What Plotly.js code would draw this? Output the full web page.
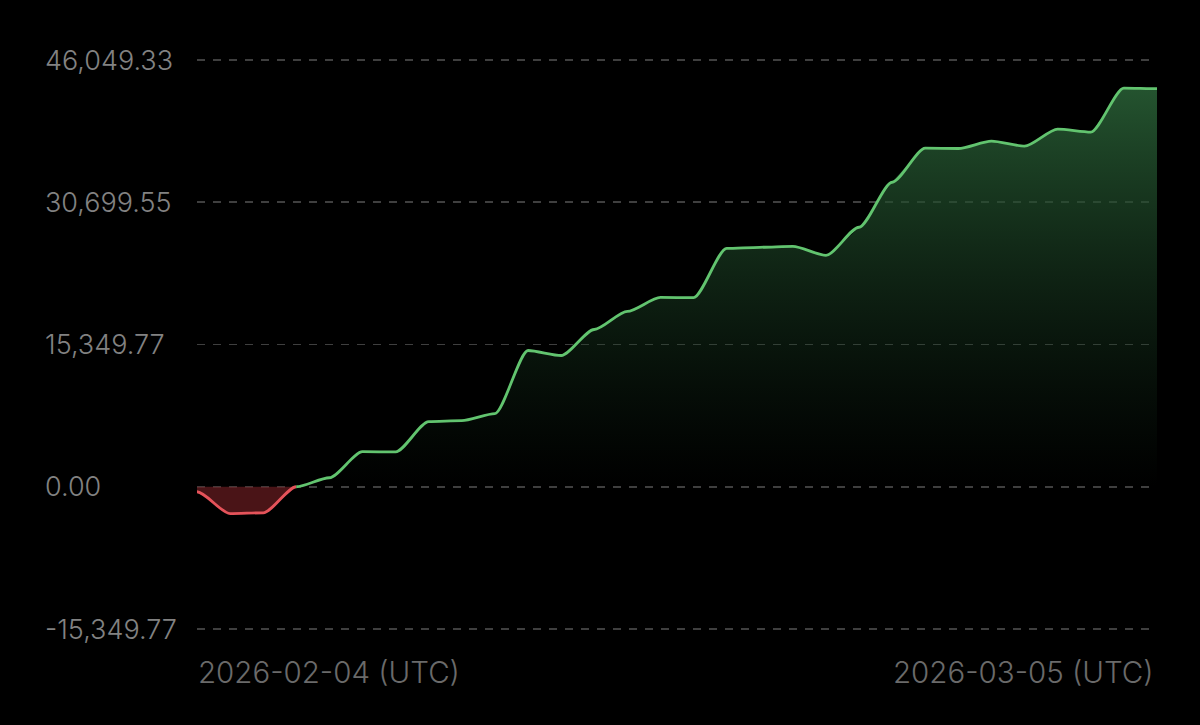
<!DOCTYPE html>
<html>
<head>
<meta charset="utf-8">
<script src="https://cdn.plot.ly/plotly-3.0.1.min.js"></script>
<style>html,body{margin:0;padding:0;background:#000;}#chart{width:1200px;height:725px;}</style>
</head>
<body>
<div id="chart"></div>
<script>
// Daily cumulative values (UTC), 2026-02-04 .. 2026-03-05
const dates = [
  "2026-02-04","2026-02-05","2026-02-06","2026-02-07","2026-02-08","2026-02-09",
  "2026-02-10","2026-02-11","2026-02-12","2026-02-13","2026-02-14","2026-02-15",
  "2026-02-16","2026-02-17","2026-02-18","2026-02-19","2026-02-20","2026-02-21",
  "2026-02-22","2026-02-23","2026-02-24","2026-02-25","2026-02-26","2026-02-27",
  "2026-02-28","2026-03-01","2026-03-02","2026-03-03","2026-03-04","2026-03-05"
];
const values = [
  -540, -2900, -2810, 0, 970, 3780,
  3760, 7030, 7130, 7890, 14700, 14160,
  16970, 18920, 20430, 20400, 25730, 25840,
  25940, 24970, 28000, 32860, 36540, 36500,
  37290, 36750, 38590, 38270, 43020, 42950
];
const tickVals = [46049.33, 30699.55, 15349.77, 0, -15349.77];
const tickText = ["46,049.33", "30,699.55", "15,349.77", "0.00", "-15,349.77"];
const xLabels = ["2026-02-04 (UTC)", "2026-03-05 (UTC)"];

// split at the zero crossing (index 3 is exactly 0)
const SPLIT = 3;
const negX = dates.slice(0, SPLIT + 1), negY = values.slice(0, SPLIT + 1);
const posX = dates.slice(SPLIT), posY = values.slice(SPLIT);

const FONT = 'Inter, "Open Sans", sans-serif';
const RED = '#e5535a', GREEN = '#62c46f';

// Smoothed curve through the data points with flat tangents at each point (data coordinates)
function smoothPath(xs, ys) {
  let d = 'M' + xs[0] + ',' + ys[0];
  for (let i = 0; i < xs.length - 1; i++) {
    d += ' C' + xs[i] + '_06:00,' + ys[i] + ' ' + xs[i] + '_18:00,' + ys[i + 1] +
         ' ' + xs[i + 1] + ',' + ys[i + 1];
  }
  return d;
}

const traces = [
  {
    x: negX, y: negY, type: 'scatter', mode: 'lines',
    line: {color: 'rgba(0,0,0,0)', width: 0, shape: 'spline', smoothing: 0.4},
    fill: 'tozeroy', fillcolor: 'rgba(105,28,33,0.7)',
    hoverinfo: 'skip'
  },
  {
    x: posX, y: posY, type: 'scatter', mode: 'lines',
    line: {color: 'rgba(0,0,0,0)', width: 0, shape: 'spline', smoothing: 0.4},
    fill: 'tozeroy',
    fillgradient: {
      type: 'vertical',
      colorscale: [[0, 'rgba(20,50,28,0)'], [1, 'rgba(40,92,52,1)']],
      start: 0, stop: 46049.33
    },
    hoverinfo: 'skip'
  }
];

const shapes = [
  {type: 'path', xref: 'x', yref: 'y', path: smoothPath(negX, negY),
   line: {color: RED, width: 2.8}, layer: 'above'},
  {type: 'path', xref: 'x', yref: 'y', path: smoothPath(posX, posY),
   line: {color: GREEN, width: 2.8}, layer: 'above'}
];

const annotations = tickVals.map((v, i) => ({
  xref: 'paper', yref: 'y', x: (43 - 197) / 960, y: v,
  xanchor: 'left', yanchor: 'middle', showarrow: false,
  text: tickText[i],
  font: {family: FONT, size: 27, color: '#828282', weight: 300}
}));
annotations.push({
  xref: 'paper', yref: 'paper', x: -0.001, y: -0.0194, xanchor: 'left', yanchor: 'middle',
  showarrow: false, text: xLabels[0],
  font: {family: FONT, size: 29.5, color: '#6a6a6a', weight: 300}
});
annotations.push({
  xref: 'paper', yref: 'paper', x: 0.999, y: -0.0194, xanchor: 'right', yanchor: 'middle',
  showarrow: false, text: xLabels[1],
  font: {family: FONT, size: 29.5, color: '#6a6a6a', weight: 300}
});

const layout = {
  width: 1200, height: 725,
  margin: {l: 197, r: 43, t: 40, b: 65},
  paper_bgcolor: '#000', plot_bgcolor: '#000',
  showlegend: false,
  xaxis: {
    type: 'date', range: [dates[0], dates[dates.length - 1]],
    showgrid: false, zeroline: false, showticklabels: false, showline: false, ticks: ''
  },
  yaxis: {
    range: [-18695, 48207],
    tickvals: tickVals, showticklabels: false,
    showgrid: true, gridcolor: '#3f3f3f', gridwidth: 1.8, griddash: '8px,8px',
    zeroline: false, showline: false, ticks: ''
  },
  shapes: shapes,
  annotations: annotations
};

Plotly.newPlot('chart', traces, layout, {staticPlot: true, displayModeBar: false});
</script>
</body>
</html>
